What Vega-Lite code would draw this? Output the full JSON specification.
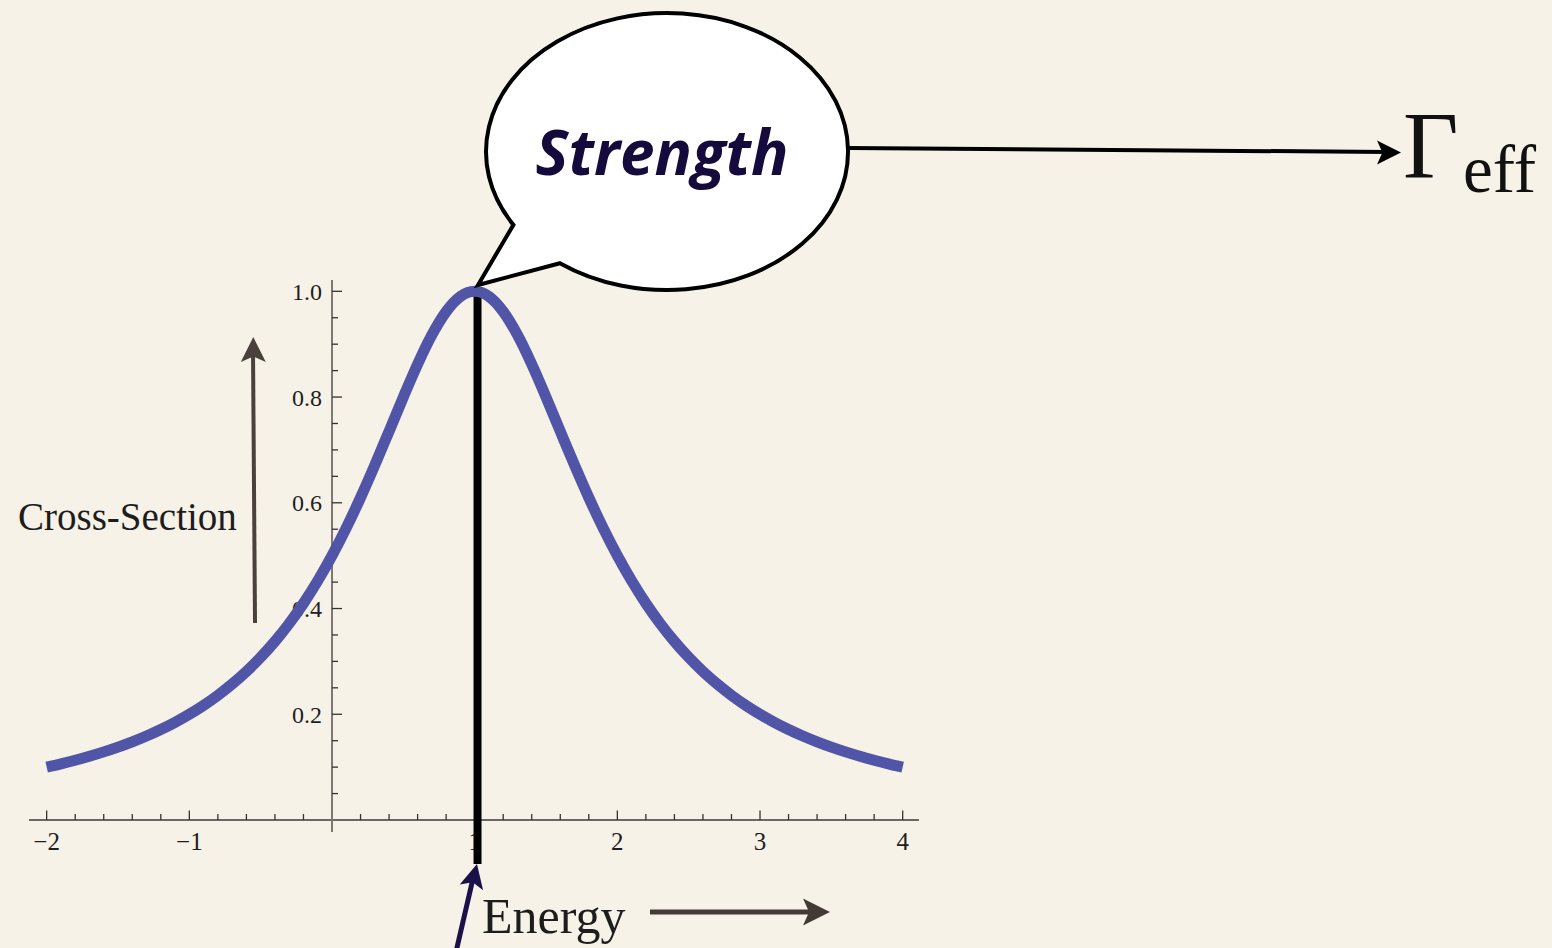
{
  "$schema": "https://vega.github.io/schema/vega-lite/v6.json",
  "width": 1552,
  "height": 948,
  "padding": 0,
  "autosize": {"type": "none"},
  "background": "#f6f2e7",
  "config": {"view": {"stroke": null}, "axis": {"disable": true}},
  "datasets": {
    "curve": [
      {"x": -2.0, "y": 0.1}, {"x": -1.9, "y": 0.10627}, {"x": -1.8, "y": 0.11312}, {"x": -1.7, "y": 0.12063},
      {"x": -1.6, "y": 0.12887}, {"x": -1.5, "y": 0.13793}, {"x": -1.4, "y": 0.14793}, {"x": -1.3, "y": 0.15898},
      {"x": -1.2, "y": 0.17123}, {"x": -1.1, "y": 0.18484}, {"x": -1.0, "y": 0.2}, {"x": -0.9, "y": 0.21692},
      {"x": -0.8, "y": 0.23585}, {"x": -0.7, "y": 0.25707}, {"x": -0.6, "y": 0.2809}, {"x": -0.5, "y": 0.30769},
      {"x": -0.4, "y": 0.33784}, {"x": -0.3, "y": 0.37175}, {"x": -0.2, "y": 0.40984}, {"x": -0.1, "y": 0.45249},
      {"x": 0.0, "y": 0.5}, {"x": 0.1, "y": 0.55249}, {"x": 0.2, "y": 0.60976}, {"x": 0.3, "y": 0.67114},
      {"x": 0.4, "y": 0.73529}, {"x": 0.5, "y": 0.8}, {"x": 0.6, "y": 0.86207}, {"x": 0.7, "y": 0.91743},
      {"x": 0.8, "y": 0.96154}, {"x": 0.9, "y": 0.9901}, {"x": 1.0, "y": 1.0}, {"x": 1.1, "y": 0.9901},
      {"x": 1.2, "y": 0.96154}, {"x": 1.3, "y": 0.91743}, {"x": 1.4, "y": 0.86207}, {"x": 1.5, "y": 0.8},
      {"x": 1.6, "y": 0.73529}, {"x": 1.7, "y": 0.67114}, {"x": 1.8, "y": 0.60976}, {"x": 1.9, "y": 0.55249},
      {"x": 2.0, "y": 0.5}, {"x": 2.1, "y": 0.45249}, {"x": 2.2, "y": 0.40984}, {"x": 2.3, "y": 0.37175},
      {"x": 2.4, "y": 0.33784}, {"x": 2.5, "y": 0.30769}, {"x": 2.6, "y": 0.2809}, {"x": 2.7, "y": 0.25707},
      {"x": 2.8, "y": 0.23585}, {"x": 2.9, "y": 0.21692}, {"x": 3.0, "y": 0.2}, {"x": 3.1, "y": 0.18484},
      {"x": 3.2, "y": 0.17123}, {"x": 3.3, "y": 0.15898}, {"x": 3.4, "y": 0.14793}, {"x": 3.5, "y": 0.13793},
      {"x": 3.6, "y": 0.12887}, {"x": 3.7, "y": 0.12063}, {"x": 3.8, "y": 0.11312}, {"x": 3.9, "y": 0.10627},
      {"x": 4.0, "y": 0.1}
    ],
    "xticks": [
      {"x": -2, "major": true}, {"x": -1, "major": true}, {"x": 1, "major": true},
      {"x": 2, "major": true}, {"x": 3, "major": true}, {"x": 4, "major": true},
      {"x": -1.8, "major": false}, {"x": -1.6, "major": false}, {"x": -1.4, "major": false}, {"x": -1.2, "major": false},
      {"x": -0.8, "major": false}, {"x": -0.6, "major": false}, {"x": -0.4, "major": false}, {"x": -0.2, "major": false},
      {"x": 0.2, "major": false}, {"x": 0.4, "major": false}, {"x": 0.6, "major": false}, {"x": 0.8, "major": false},
      {"x": 1.2, "major": false}, {"x": 1.4, "major": false}, {"x": 1.6, "major": false}, {"x": 1.8, "major": false},
      {"x": 2.2, "major": false}, {"x": 2.4, "major": false}, {"x": 2.6, "major": false}, {"x": 2.8, "major": false},
      {"x": 3.2, "major": false}, {"x": 3.4, "major": false}, {"x": 3.6, "major": false}, {"x": 3.8, "major": false}
    ],
    "yticks": [
      {"y": 0.2, "major": true}, {"y": 0.4, "major": true}, {"y": 0.6, "major": true}, {"y": 0.8, "major": true}, {"y": 1.0, "major": true},
      {"y": 0.05, "major": false}, {"y": 0.1, "major": false}, {"y": 0.15, "major": false},
      {"y": 0.25, "major": false}, {"y": 0.3, "major": false}, {"y": 0.35, "major": false},
      {"y": 0.45, "major": false}, {"y": 0.5, "major": false}, {"y": 0.55, "major": false},
      {"y": 0.65, "major": false}, {"y": 0.7, "major": false}, {"y": 0.75, "major": false},
      {"y": 0.85, "major": false}, {"y": 0.9, "major": false}, {"y": 0.95, "major": false}
    ],
    "xlabels": [
      {"x": -2, "label": "−2"}, {"x": -1, "label": "−1"}, {"x": 1, "label": "1"},
      {"x": 2, "label": "2"}, {"x": 3, "label": "3"}, {"x": 4, "label": "4"}
    ],
    "ylabels": [
      {"y": 0.2, "label": "0.2"}, {"y": 0.4, "label": "0.4"}, {"y": 0.6, "label": "0.6"},
      {"y": 0.8, "label": "0.8"}, {"y": 1.0, "label": "1.0"}
    ]
  },
  "layer": [
    {
      "data": {"values": [{"x": -2.1238, "x2": 4.1144, "y": 0}]},
      "mark": {"type": "rule", "color": "#3a3a3a", "strokeWidth": 1.5},
      "encoding": {
        "x": {"field": "x", "type": "quantitative", "scale": {"domain": [-2.3271, 8.5512], "nice": false, "zero": false}, "axis": null},
        "x2": {"field": "x2"},
        "y": {"field": "y", "type": "quantitative", "scale": {"domain": [-0.2421, 1.551], "nice": false, "zero": false}, "axis": null}
      }
    },
    {
      "data": {"values": [{"x": 0, "y": -0.0227, "y2": 1.0214}]},
      "mark": {"type": "rule", "color": "#7d7873", "strokeWidth": 2},
      "encoding": {
        "x": {"field": "x", "type": "quantitative", "scale": {"domain": [-2.3271, 8.5512], "nice": false, "zero": false}, "axis": null},
        "y": {"field": "y", "type": "quantitative", "scale": {"domain": [-0.2421, 1.551], "nice": false, "zero": false}, "axis": null},
        "y2": {"field": "y2"}
      }
    },
    {
      "data": {"name": "xticks"},
      "transform": [{"filter": "datum.major"}],
      "mark": {"type": "rule", "color": "#333333", "strokeWidth": 1.3},
      "encoding": {
        "x": {"field": "x", "type": "quantitative", "scale": {"domain": [-2.3271, 8.5512], "nice": false, "zero": false}, "axis": null},
        "y": {"datum": 0, "type": "quantitative", "axis": null},
        "y2": {"datum": 0.018}
      }
    },
    {
      "data": {"name": "xticks"},
      "transform": [{"filter": "!datum.major"}],
      "mark": {"type": "rule", "color": "#333333", "strokeWidth": 1.3},
      "encoding": {
        "x": {"field": "x", "type": "quantitative", "scale": {"domain": [-2.3271, 8.5512], "nice": false, "zero": false}, "axis": null},
        "y": {"datum": 0, "type": "quantitative", "axis": null},
        "y2": {"datum": 0.0113}
      }
    },
    {
      "data": {"name": "yticks"},
      "transform": [{"filter": "datum.major"}],
      "mark": {"type": "rule", "color": "#333333", "strokeWidth": 1.3},
      "encoding": {
        "x": {"datum": 0, "type": "quantitative", "axis": null},
        "x2": {"datum": 0.0701},
        "y": {"field": "y", "type": "quantitative", "scale": {"domain": [-0.2421, 1.551], "nice": false, "zero": false}, "axis": null}
      }
    },
    {
      "data": {"name": "yticks"},
      "transform": [{"filter": "!datum.major"}],
      "mark": {"type": "rule", "color": "#333333", "strokeWidth": 1.3},
      "encoding": {
        "x": {"datum": 0, "type": "quantitative", "axis": null},
        "x2": {"datum": 0.042},
        "y": {"field": "y", "type": "quantitative", "scale": {"domain": [-0.2421, 1.551], "nice": false, "zero": false}, "axis": null}
      }
    },
    {
      "data": {"name": "xlabels"},
      "mark": {"type": "text", "font": "Liberation Serif", "fontSize": 25, "color": "#1e1e1e", "align": "center", "baseline": "alphabetic"},
      "encoding": {
        "x": {"field": "x", "type": "quantitative", "scale": {"domain": [-2.3271, 8.5512], "nice": false, "zero": false}, "axis": null},
        "y": {"datum": -0.0567, "type": "quantitative", "axis": null},
        "text": {"field": "label"}
      }
    },
    {
      "data": {"name": "ylabels"},
      "mark": {"type": "text", "font": "Liberation Serif", "fontSize": 24, "color": "#1e1e1e", "align": "right", "baseline": "alphabetic", "dy": 8.5},
      "encoding": {
        "x": {"datum": -0.0701, "type": "quantitative", "axis": null},
        "y": {"field": "y", "type": "quantitative", "scale": {"domain": [-0.2421, 1.551], "nice": false, "zero": false}, "axis": null},
        "text": {"field": "label"}
      }
    },
    {
      "data": {"values": [{"x": 1.02, "y": 1.0, "y2": -0.0832}]},
      "mark": {"type": "rule", "color": "#000000", "strokeWidth": 8},
      "encoding": {
        "x": {"field": "x", "type": "quantitative", "scale": {"domain": [-2.3271, 8.5512], "nice": false, "zero": false}, "axis": null},
        "y": {"field": "y", "type": "quantitative", "scale": {"domain": [-0.2421, 1.551], "nice": false, "zero": false}, "axis": null},
        "y2": {"field": "y2"}
      }
    },
    {
      "data": {"name": "curve"},
      "mark": {"type": "line", "color": "#5055a8", "strokeWidth": 11, "strokeCap": "butt", "interpolate": "monotone"},
      "encoding": {
        "x": {"field": "x", "type": "quantitative", "scale": {"domain": [-2.3271, 8.5512], "nice": false, "zero": false}, "axis": null},
        "y": {"field": "y", "type": "quantitative", "scale": {"domain": [-0.2421, 1.551], "nice": false, "zero": false}, "axis": null}
      }
    },
    {
      "data": {"values": [{"x": 2.3481, "y": 1.2644}]},
      "mark": {
        "type": "point",
        "shape": "M-0.56368,0.58789A0.95263,0.72895,0,1,0,-0.80842,0.38579L-0.99474,0.70263Z",
        "size": 144400,
        "filled": true,
        "fill": "#ffffff",
        "fillOpacity": 1,
        "stroke": "#000000",
        "strokeWidth": 4,
        "opacity": 1
      },
      "encoding": {
        "x": {"field": "x", "type": "quantitative", "scale": {"domain": [-2.3271, 8.5512], "nice": false, "zero": false}, "axis": null},
        "y": {"field": "y", "type": "quantitative", "scale": {"domain": [-0.2421, 1.551], "nice": false, "zero": false}, "axis": null}
      }
    },
    {
      "data": {"values": [{"x": 2.313, "y": 1.22, "label": "Strength"}]},
      "mark": {"type": "text", "font": "Open Sans", "fontSize": 62, "fontWeight": "bold", "fontStyle": "italic", "color": "#150a3c", "align": "center", "baseline": "alphabetic"},
      "encoding": {
        "x": {"field": "x", "type": "quantitative", "scale": {"domain": [-2.3271, 8.5512], "nice": false, "zero": false}, "axis": null},
        "y": {"field": "y", "type": "quantitative", "scale": {"domain": [-0.2421, 1.551], "nice": false, "zero": false}, "axis": null},
        "text": {"field": "label"}
      }
    },
    {
      "data": {"values": [{"x": 3.6167, "y": 1.2711, "x2": 7.4017, "y2": 1.2635}]},
      "mark": {"type": "rule", "color": "#000000", "strokeWidth": 4},
      "encoding": {
        "x": {"field": "x", "type": "quantitative", "scale": {"domain": [-2.3271, 8.5512], "nice": false, "zero": false}, "axis": null},
        "y": {"field": "y", "type": "quantitative", "scale": {"domain": [-0.2421, 1.551], "nice": false, "zero": false}, "axis": null},
        "x2": {"field": "x2"},
        "y2": {"field": "y2"}
      }
    },
    {
      "data": {"values": [{"x": 7.4087, "y": 1.2625}]},
      "mark": {"type": "point", "shape": "M1,0L-1,-1L-0.55,0L-1,1Z", "size": 576, "filled": true, "color": "#000000", "opacity": 1},
      "encoding": {
        "x": {"field": "x", "type": "quantitative", "scale": {"domain": [-2.3271, 8.5512], "nice": false, "zero": false}, "axis": null},
        "y": {"field": "y", "type": "quantitative", "scale": {"domain": [-0.2421, 1.551], "nice": false, "zero": false}, "axis": null}
      }
    },
    {
      "data": {"values": [{"x": 7.5069, "y": 1.2143, "label": "Γ"}]},
      "mark": {"type": "text", "font": "Liberation Serif", "fontSize": 96, "color": "#111111", "align": "left", "baseline": "alphabetic"},
      "encoding": {
        "x": {"field": "x", "type": "quantitative", "scale": {"domain": [-2.3271, 8.5512], "nice": false, "zero": false}, "axis": null},
        "y": {"field": "y", "type": "quantitative", "scale": {"domain": [-0.2421, 1.551], "nice": false, "zero": false}, "axis": null},
        "text": {"field": "label"}
      }
    },
    {
      "data": {"values": [{"x": 7.9275, "y": 1.1878, "label": "eff"}]},
      "mark": {"type": "text", "font": "Liberation Serif", "fontSize": 67, "color": "#111111", "align": "left", "baseline": "alphabetic"},
      "encoding": {
        "x": {"field": "x", "type": "quantitative", "scale": {"domain": [-2.3271, 8.5512], "nice": false, "zero": false}, "axis": null},
        "y": {"field": "y", "type": "quantitative", "scale": {"domain": [-0.2421, 1.551], "nice": false, "zero": false}, "axis": null},
        "text": {"field": "label"}
      }
    },
    {
      "data": {"values": [{"x": -2.2009, "y": 0.5485, "label": "Cross-Section"}]},
      "mark": {"type": "text", "font": "Liberation Serif", "fontSize": 39, "color": "#1d1d1d", "align": "left", "baseline": "alphabetic"},
      "encoding": {
        "x": {"field": "x", "type": "quantitative", "scale": {"domain": [-2.3271, 8.5512], "nice": false, "zero": false}, "axis": null},
        "y": {"field": "y", "type": "quantitative", "scale": {"domain": [-0.2421, 1.551], "nice": false, "zero": false}, "axis": null},
        "text": {"field": "label"}
      }
    },
    {
      "data": {"values": [{"x": -0.5397, "y": 0.3726, "x2": -0.5537, "y2": 0.8852}]},
      "mark": {"type": "rule", "color": "#4a413c", "strokeWidth": 4},
      "encoding": {
        "x": {"field": "x", "type": "quantitative", "scale": {"domain": [-2.3271, 8.5512], "nice": false, "zero": false}, "axis": null},
        "y": {"field": "y", "type": "quantitative", "scale": {"domain": [-0.2421, 1.551], "nice": false, "zero": false}, "axis": null},
        "x2": {"field": "x2"},
        "y2": {"field": "y2"}
      }
    },
    {
      "data": {"values": [{"x": -0.5516, "y": 0.8899}]},
      "mark": {"type": "point", "shape": "M0,-1L1,1L0,0.55L-1,1Z", "size": 625, "filled": true, "color": "#4a413c", "opacity": 1},
      "encoding": {
        "x": {"field": "x", "type": "quantitative", "scale": {"domain": [-2.3271, 8.5512], "nice": false, "zero": false}, "axis": null},
        "y": {"field": "y", "type": "quantitative", "scale": {"domain": [-0.2421, 1.551], "nice": false, "zero": false}, "axis": null}
      }
    },
    {
      "data": {"values": [{"x": 1.0514, "y": -0.2137, "label": "Energy"}]},
      "mark": {"type": "text", "font": "Liberation Serif", "fontSize": 50, "color": "#1d1d1d", "align": "left", "baseline": "alphabetic"},
      "encoding": {
        "x": {"field": "x", "type": "quantitative", "scale": {"domain": [-2.3271, 8.5512], "nice": false, "zero": false}, "axis": null},
        "y": {"field": "y", "type": "quantitative", "scale": {"domain": [-0.2421, 1.551], "nice": false, "zero": false}, "axis": null},
        "text": {"field": "label"}
      }
    },
    {
      "data": {"values": [{"x": 2.2289, "y": -0.174, "x2": 3.3854, "y2": -0.174}]},
      "mark": {"type": "rule", "color": "#453b36", "strokeWidth": 5},
      "encoding": {
        "x": {"field": "x", "type": "quantitative", "scale": {"domain": [-2.3271, 8.5512], "nice": false, "zero": false}, "axis": null},
        "y": {"field": "y", "type": "quantitative", "scale": {"domain": [-0.2421, 1.551], "nice": false, "zero": false}, "axis": null},
        "x2": {"field": "x2"},
        "y2": {"field": "y2"}
      }
    },
    {
      "data": {"values": [{"x": 3.3959, "y": -0.174}]},
      "mark": {"type": "point", "shape": "M1,0L-1,-1L-0.55,0L-1,1Z", "size": 729, "filled": true, "color": "#453b36", "opacity": 1},
      "encoding": {
        "x": {"field": "x", "type": "quantitative", "scale": {"domain": [-2.3271, 8.5512], "nice": false, "zero": false}, "axis": null},
        "y": {"field": "y", "type": "quantitative", "scale": {"domain": [-0.2421, 1.551], "nice": false, "zero": false}, "axis": null}
      }
    },
    {
      "data": {"values": [{"x": 0.8565, "y": -0.2642, "x2": 0.9988, "y2": -0.0984}]},
      "mark": {"type": "rule", "color": "#1c1049", "strokeWidth": 5},
      "encoding": {
        "x": {"field": "x", "type": "quantitative", "scale": {"domain": [-2.3271, 8.5512], "nice": false, "zero": false}, "axis": null},
        "y": {"field": "y", "type": "quantitative", "scale": {"domain": [-0.2421, 1.551], "nice": false, "zero": false}, "axis": null},
        "x2": {"field": "x2"},
        "y2": {"field": "y2"}
      }
    },
    {
      "data": {"values": [{"x": 0.9967, "y": -0.1054}]},
      "mark": {"type": "point", "shape": "M0,-1L1,1L0,0.55L-1,1Z", "size": 576, "angle": 13.4, "filled": true, "color": "#1c1049", "opacity": 1},
      "encoding": {
        "x": {"field": "x", "type": "quantitative", "scale": {"domain": [-2.3271, 8.5512], "nice": false, "zero": false}, "axis": null},
        "y": {"field": "y", "type": "quantitative", "scale": {"domain": [-0.2421, 1.551], "nice": false, "zero": false}, "axis": null}
      }
    }
  ]
}
